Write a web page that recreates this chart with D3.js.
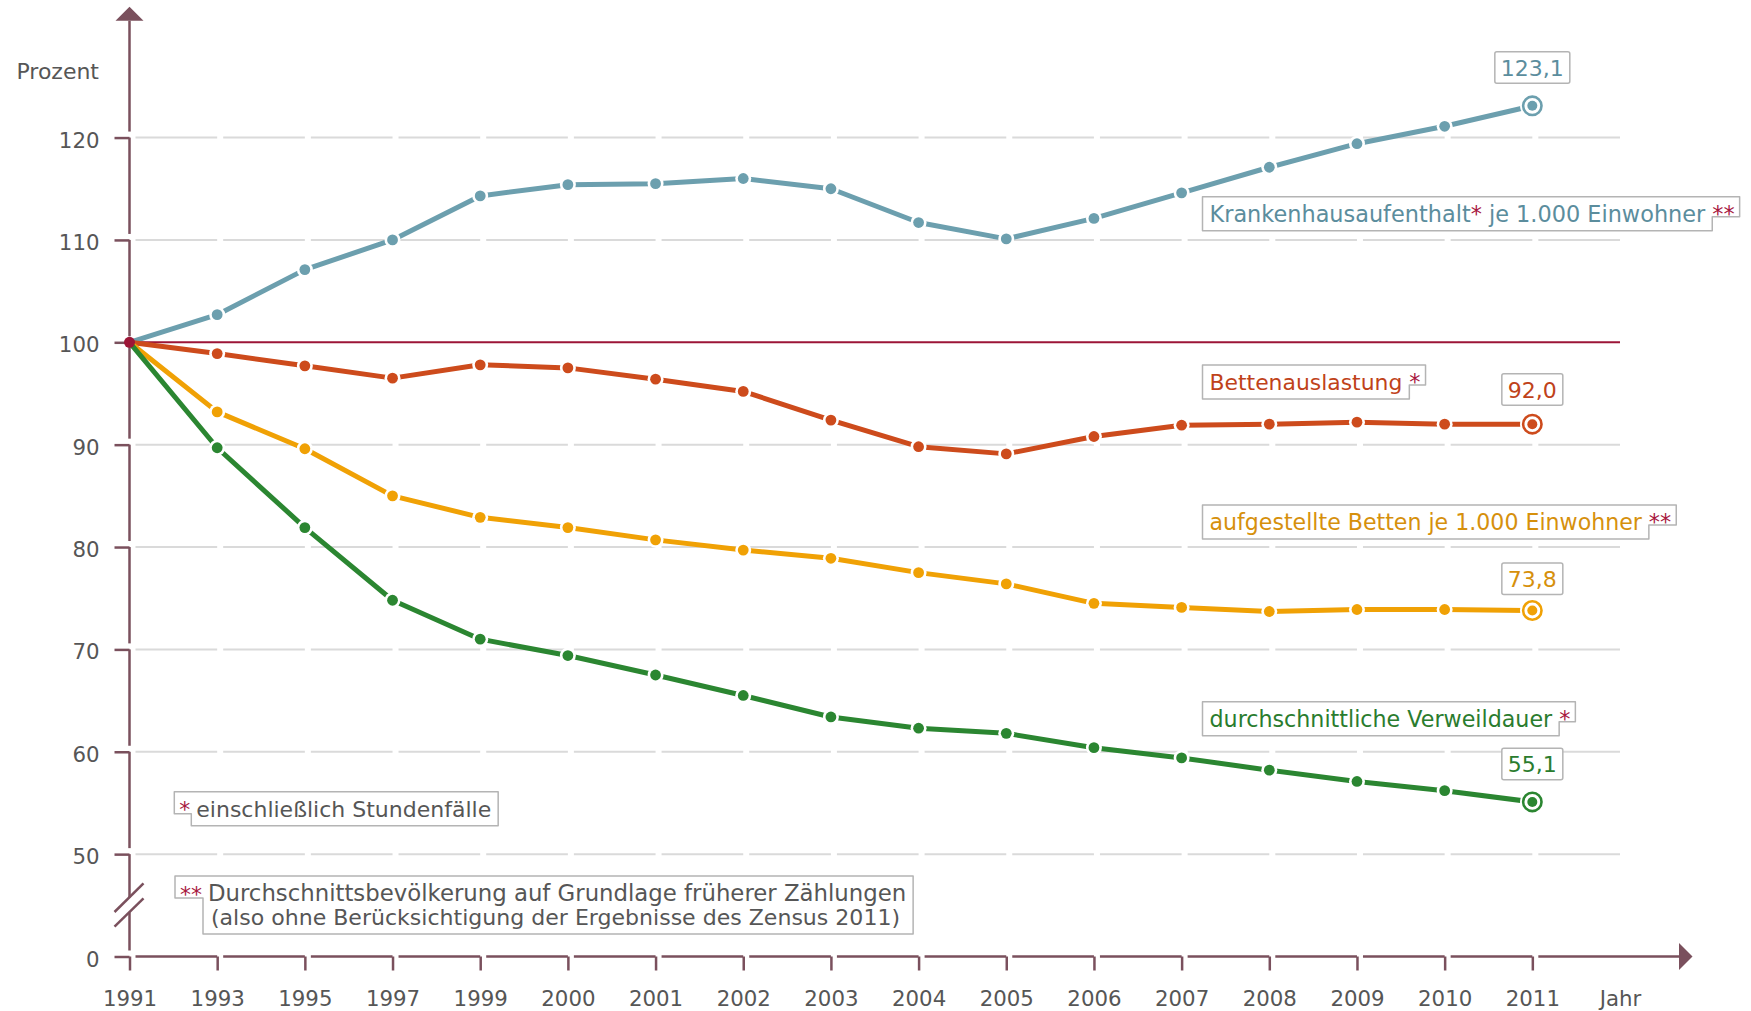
<!DOCTYPE html>
<html>
<head>
<meta charset="utf-8">
<script src="https://cdn.jsdelivr.net/npm/d3@7"></script>
<style>
  body { margin: 0; background: #fff; }
  svg { display: block; font-family: "DejaVu Sans", Verdana, sans-serif; }
</style>
</head>
<body>
<div id="chart"></div>
<script>
// data (1991 = 100)
let years = ["1991", "1993", "1995", "1997", "1999", "2000", "2001", "2002", "2003",
             "2004", "2005", "2006", "2007", "2008", "2009", "2010", "2011"];
let krankenhaus = [100, 102.7, 107.1, 110.0, 114.3, 115.4, 115.5, 116.0, 115.0,
                   111.7, 110.1, 112.1, 114.6, 117.1, 119.4, 121.1, 123.1];
let bettenauslastung = [100, 98.9, 97.7, 96.5, 97.8, 97.5, 96.4, 95.2, 92.4,
                        89.8, 89.1, 90.8, 91.9, 92.0, 92.2, 92.0, 92.0];
let betten = [100, 93.2, 89.6, 85.0, 82.9, 81.9, 80.7, 79.7, 78.9,
              77.5, 76.4, 74.5, 74.1, 73.7, 73.9, 73.9, 73.8];
let verweildauer = [100, 89.7, 81.9, 74.8, 71.0, 69.4, 67.5, 65.5, 63.4,
                    62.3, 61.8, 60.4, 59.4, 58.2, 57.1, 56.2, 55.1];
let endLabels = ["123,1", "92,0", "73,8", "55,1"];
let yTicks = [40, 50, 60, 70, 80, 90, 100, 110, 120];   // 40 is drawn as "0" (axis break)

let seriesNames = [
  [["Krankenhausaufenthalt", "c"], ["*", "s"], [" je 1.000 Einwohner", "c"]],
  [["Bettenauslastung", "c"]],
  [["aufgestellte Betten je 1.000 Einwohner", "c"]],
  [["durchschnittliche Verweildauer", "c"]]
];
let seriesStars = ["**", "*", "**", "*"];
let footnoteStars = ["*", "**"];
let footnoteTexts = [
  ["einschließlich Stundenfälle"],
  ["Durchschnittsbevölkerung auf Grundlage früherer Zählungen",
   "(also ohne Berücksichtigung der Ergebnisse des Zensus 2011)"]
];

let lineColors = ["#6c9fae", "#cd4b1c", "#f0a105", "#2b8631"];
let textColors = ["#5b8d9d", "#bf421a", "#d6900c", "#2a7c2e"];
let axisColor = "#7a505d";
let baseColor = "#9c1537";
let starColor = "#a8183f";
let greyText = "#565656";
let boxStroke = "#b4b4b4";

let w = 1751;
let h = 1011;
let gap = 6;

let allSeries = [krankenhaus, bettenauslastung, betten, verweildauer];

let x = d3.scalePoint().domain(years.concat(["Jahr"])).range([129.5, 1620]);
let y = d3.scaleLinear().domain([40, 100]).range([956.5, 342.3]);

let svg = d3.select("#chart").append("svg")
  .attr("width", w)
  .attr("height", h)
  .attr("viewBox", "0 0 " + w + " " + h);

// gridlines, broken just right of every year
let dom = x.domain();
let grid = svg.append("g").attr("class", "grid");
yTicks.filter(t => t != 40 && t != 100).forEach(t => {
  for (let i = 0; i < dom.length - 1; i++) {
    grid.append("line")
      .attr("x1", x(dom[i]) + gap).attr("x2", x(dom[i + 1]))
      .attr("y1", y(t)).attr("y2", y(t))
      .attr("stroke", "#dadada").attr("stroke-width", 2);
  }
});

// 100 line
svg.append("line")
  .attr("x1", x("1991")).attr("x2", x("Jahr"))
  .attr("y1", y(100)).attr("y2", y(100))
  .attr("stroke", baseColor).attr("stroke-width", 2);

// y axis
let yAxis = d3.axisLeft(y).tickValues(yTicks).tickSize(15).tickPadding(15)
  .tickFormat(d => d == 40 ? "0" : d);
let yAxisGroup = svg.append("g").attr("transform", "translate(" + x("1991") + ",0)").call(yAxis);
yAxisGroup.select(".domain").remove();
yAxisGroup.selectAll(".tick line").attr("stroke", axisColor).attr("stroke-width", 2.5);
yAxisGroup.selectAll(".tick text").attr("fill", greyText).attr("font-size", 21.3)
  .attr("font-family", "DejaVu Sans").attr("dy", "0.45em");

let ax = svg.append("g").attr("class", "axislines")
  .attr("stroke", axisColor).attr("stroke-width", 2.5).attr("fill", "none");
let x0 = x("1991");
let yTop = 20.7;
let breakTop = 897.5, breakBot = 912.2;
// vertical pieces
let ySegs = [[yTop, y(120) - gap]];
for (let t = 120; t > 50; t -= 10) ySegs.push([y(t), y(t - 10) - gap]);
ySegs.push([y(50), breakTop]);
ySegs.push([breakBot, y(40) - gap]);
ySegs.forEach(s => ax.append("line").attr("x1", x0).attr("x2", x0).attr("y1", s[0]).attr("y2", s[1]));
// break marks
[[912, 883.3], [926.7, 898.3]].forEach(b => {
  ax.append("line").attr("x1", x0 - 15).attr("y1", b[0]).attr("x2", x0 + 14).attr("y2", b[1]);
});
// top arrow
svg.append("path")
  .attr("d", "M" + x0 + ",6.7L" + (x0 + 14) + "," + yTop + "L" + (x0 - 14) + "," + yTop + "Z")
  .attr("fill", axisColor);

// x axis
let xAxis = d3.axisBottom(x).tickSize(14).tickPadding(20);
let xAxisGroup = svg.append("g").attr("transform", "translate(0," + y(40) + ")").call(xAxis);
xAxisGroup.select(".domain").remove();
xAxisGroup.selectAll(".tick line").attr("stroke", axisColor).attr("stroke-width", 2.5)
  .filter(d => d == "Jahr").remove();
xAxisGroup.selectAll(".tick text").attr("fill", greyText).attr("font-size", 21.3)
  .attr("font-family", "DejaVu Sans").attr("dy", "0.71em");
let arrowBase = 1679;
for (let i = 0; i < years.length; i++) {
  let xe = i < years.length - 1 ? x(years[i + 1]) : arrowBase;
  ax.append("line").attr("x1", x(years[i]) + gap).attr("x2", xe).attr("y1", y(40)).attr("y2", y(40));
}
svg.append("path")
  .attr("d", "M" + arrowBase + "," + (y(40) - 13.5) + "L1692.5," + y(40) + "L" + arrowBase + "," + (y(40) + 13.5) + "Z")
  .attr("fill", axisColor);

svg.append("text").attr("x", 99).attr("y", 79).attr("text-anchor", "end")
  .attr("font-size", 22).attr("fill", greyText).text("Prozent");

// lines
let line = d3.line().x((d, i) => x(years[i])).y(d => y(d));
let lineGroup = svg.append("g");
allSeries.forEach((s, k) => {
  lineGroup.append("path").datum(s).attr("d", line)
    .attr("fill", "none").attr("stroke", lineColors[k]).attr("stroke-width", 5)
    .attr("stroke-linejoin", "round");
});

// markers
let markGroup = svg.append("g");
allSeries.forEach((s, k) => {
  s.forEach((v, i) => {
    if (i == 0) return;
    let cx = x(years[i]), cy = y(v);
    if (i < s.length - 1) {
      markGroup.append("circle").attr("cx", cx).attr("cy", cy).attr("r", 8).attr("fill", "#fff");
      markGroup.append("circle").attr("cx", cx).attr("cy", cy).attr("r", 5.4).attr("fill", lineColors[k]);
    } else {
      markGroup.append("circle").attr("cx", cx).attr("cy", cy).attr("r", 12.3).attr("fill", "#fff");
      markGroup.append("circle").attr("cx", cx).attr("cy", cy).attr("r", 9.2).attr("fill", "#fff")
        .attr("stroke", lineColors[k]).attr("stroke-width", 2.6);
      markGroup.append("circle").attr("cx", cx).attr("cy", cy).attr("r", 5).attr("fill", lineColors[k]);
    }
  });
});
svg.append("circle").attr("cx", x("1991")).attr("cy", y(100)).attr("r", 5.5).attr("fill", baseColor);

// end value boxes
let valueGaps = [22.7, 19, 16, 22.3];
allSeries.forEach((s, k) => {
  let cx = x(years[years.length - 1]);
  let bottom = y(s[s.length - 1]) - valueGaps[k];
  let g = svg.append("g");
  let rect = g.append("rect");
  let t = g.append("text").attr("x", cx).attr("y", bottom - 7.5).attr("text-anchor", "middle")
    .attr("font-size", 22).attr("fill", textColors[k]).text(endLabels[k]);
  let tw = t.node().getComputedTextLength();
  rect.attr("x", cx - tw / 2 - 6).attr("y", bottom - 31.5).attr("width", tw + 12).attr("height", 31.5)
    .attr("rx", 2).attr("fill", "#fff").attr("stroke", boxStroke).attr("stroke-width", 1.5);
});

// series name boxes (star part sits in a raised notch on the right)
let labelLeft = 1202.5;
let labelTops = [196.7, 365, 505, 701.7];
let labelSizes = [22.4, 21.9, 22.1, 22.2];
seriesNames.forEach((parts, k) => {
  let top = labelTops[k];
  let g = svg.append("g");
  let box = g.append("path");
  let t = g.append("text").attr("x", labelLeft + 7).attr("y", top + 25).attr("font-size", labelSizes[k]);
  parts.forEach(p => {
    t.append("tspan").attr("fill", p[1] == "s" ? starColor : textColors[k]).text(p[0]);
  });
  let wMain = t.node().getComputedTextLength();
  let r1 = labelLeft + 7 + wMain + 7;
  let st = g.append("text").attr("x", r1).attr("y", top + 25).attr("font-size", 22.4)
    .attr("fill", starColor).text(seriesStars[k]);
  let r2 = r1 + st.node().getComputedTextLength() + 5;
  let nb = top + 20, bot = top + 34;
  box.attr("d", "M" + labelLeft + "," + top + "H" + r2 + "V" + nb + "H" + r1 + "V" + bot + "H" + labelLeft + "Z")
    .attr("fill", "#fff").attr("stroke", boxStroke).attr("stroke-width", 1.5).attr("stroke-linejoin", "round");
});

// footnotes (star part in a notch on the left)
let footLeft = [174.3, 175];
let footTops = [791.7, 876];
let footSizes = [[22], [22.8, 22.05]];
footnoteTexts.forEach((lines, k) => {
  let L = footLeft[k], top = footTops[k];
  let g = svg.append("g");
  let box = g.append("path");
  let st = g.append("text").attr("x", L + 5).attr("y", top + 25.5).attr("font-size", 22)
    .attr("fill", starColor).text(footnoteStars[k]);
  let l1 = L + 5 + st.node().getComputedTextLength() + 1;
  let widths = [];
  lines.forEach((s, i) => {
    let t = g.append("text").attr("x", l1 + 5 + i * 3).attr("y", top + 25 + i * 24)
      .attr("font-size", footSizes[k][i]).attr("fill", greyText).text(s);
    widths.push(t.node().getComputedTextLength() + i * 3);
  });
  let R = l1 + 5 + d3.max(widths) + 7;
  let nb = top + 22, bot = top + 34 + (lines.length - 1) * 24;
  box.attr("d", "M" + L + "," + top + "H" + R + "V" + bot + "H" + l1 + "V" + nb + "H" + L + "Z")
    .attr("fill", "#fff").attr("stroke", boxStroke).attr("stroke-width", 1.5).attr("stroke-linejoin", "round");
});
</script>
</body>
</html>
